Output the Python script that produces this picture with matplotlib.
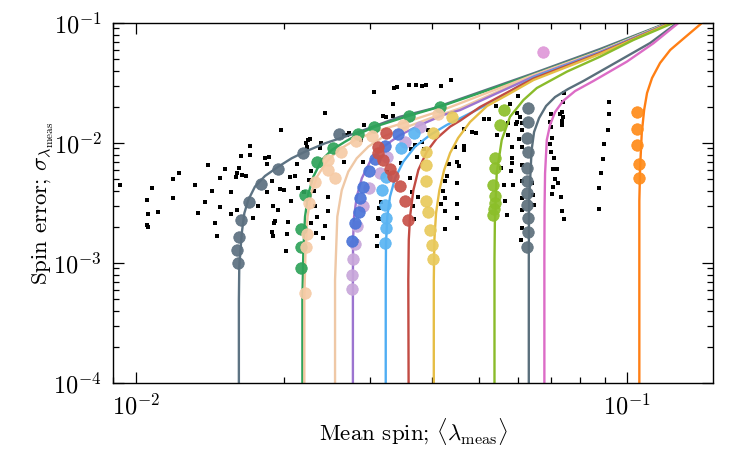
import matplotlib
matplotlib.use("Agg")
import matplotlib.pyplot as plt
from matplotlib.ticker import LogLocator, NullFormatter

plt.rcParams['font.family'] = 'serif'
plt.rcParams['font.serif'] = ['cmr10']
plt.rcParams['mathtext.fontset'] = 'cm'
plt.rcParams['axes.formatter.use_mathtext'] = True

# ---------------- data: background sample (black dots) ----------------
dots_x = [0.02426, 0.01974, 0.01707, 0.02238, 0.02262, 0.0222, 0.02234, 0.02378, 0.02374, 0.01636,
          0.01709, 0.01834, 0.01868, 0.01846, 0.0140, 0.01223, 0.01516, 0.01621, 0.01604, 0.01644,
          0.01675, 0.01596, 0.01485, 0.01191, 0.01889, 0.02059, 0.02108, 0.02131, 0.00928, 0.01076,
          0.01321, 0.0143, 0.01559, 0.01851, 0.01962, 0.02005, 0.02273, 0.02255, 0.01051, 0.01191,
          0.01059, 0.0111, 0.01051, 0.01059, 0.01382, 0.01338, 0.01485, 0.0145, 0.01464, 0.01561,
          0.01604, 0.01734, 0.01775, 0.01901, 0.01944, 0.01916, 0.0191, 0.01895, 0.01901, 0.02038,
          0.02034, 0.02024, 0.02069, 0.02135, 0.02305, 0.02313, 0.02341, 0.02269, 0.02326, 0.024,
          0.02426, 0.02464, 0.0246, 0.02652, 0.02656, 0.02686, 0.02719, 0.02199,
          0.03057, 0.03353, 0.03393, 0.03597, 0.03713, 0.0383, 0.03893, 0.04174, 0.04375, 0.03342,
          0.03189, 0.03225, 0.03342, 0.02917, 0.02877, 0.02895, 0.03459, 0.03701, 0.03731, 0.0383,
          0.03867, 0.03938, 0.04663, 0.04827, 0.04924, 0.04464, 0.04663, 0.04663, 0.04339, 0.04499,
          0.04547, 0.04293, 0.04265, 0.04499, 0.04213, 0.03653, 0.0324, 0.03614, 0.03749, 0.0315,
          0.03124, 0.03106, 0.03129, 0.03092, 0.031, 0.02818, 0.04259, 0.04186, 0.04499, 0.04265,
          0.04512, 0.04265, 0.0366, 0.03684, 0.03631,
          0.05988, 0.05776, 0.0541, 0.05122, 0.05235, 0.05732, 0.05977, 0.06053, 0.05941, 0.05977,
          0.0611, 0.05443, 0.05732, 0.06101, 0.06016, 0.06119, 0.05839, 0.05822, 0.05839, 0.05539,
          0.05795, 0.06101, 0.0611, 0.05617, 0.05863, 0.06396, 0.05644, 0.05697, 0.06119, 0.06101,
          0.0611, 0.0609, 0.06476, 0.06426,
          0.06991, 0.06968, 0.07302, 0.07372, 0.07417, 0.07361, 0.07382, 0.07417, 0.07442, 0.07011,
          0.07034, 0.06968, 0.07011, 0.0709, 0.07077, 0.07191, 0.07134, 0.07245, 0.07077, 0.07034,
          0.07327, 0.07382, 0.07431,
          0.09192, 0.09192, 0.09162, 0.08979, 0.08922, 0.08851, 0.08782, 0.08757]
dots_y = [0.01788, 0.01276, 0.00944, 0.01059, 0.01074, 0.00994, 0.00932, 0.01006, 0.00914, 0.00779,
          0.0079, 0.00754, 0.00765, 0.00665, 0.00652, 0.00566, 0.00604, 0.00615, 0.00562, 0.00544,
          0.0053, 0.00521, 0.00514, 0.00498, 0.00482, 0.00524, 0.00533, 0.00665, 0.00446, 0.00419,
          0.00449, 0.00398, 0.00393, 0.00393, 0.0041, 0.00402, 0.00584, 0.00492, 0.00335, 0.00349,
          0.00256, 0.00265, 0.00207, 0.00201, 0.0032, 0.00261, 0.00294, 0.00215, 0.00169, 0.00258,
          0.00275, 0.00236, 0.00297, 0.00298, 0.00277, 0.00223, 0.00217, 0.0018, 0.00168, 0.00218,
          0.00174, 0.00126, 0.0033, 0.00419, 0.00396, 0.003, 0.00243, 0.00214, 0.00179, 0.00162,
          0.00205, 0.00357, 0.0027, 0.00699, 0.01177, 0.01177, 0.01204, 0.00393,
          0.02676, 0.0289, 0.0291, 0.0304, 0.0304, 0.02985, 0.0306, 0.0300, 0.0337, 0.02099,
          0.01679, 0.01636, 0.01679, 0.01426, 0.01059, 0.00699, 0.00685, 0.00962, 0.0076, 0.01025,
          0.0089, 0.01276, 0.01308, 0.01228, 0.01211, 0.00932, 0.0095, 0.00869, 0.00672, 0.0069,
          0.00647, 0.00533, 0.00485, 0.00464, 0.00398, 0.00392, 0.0057, 0.00508, 0.00354, 0.00324,
          0.00286, 0.00236, 0.00231, 0.00168, 0.00139, 0.00153, 0.00346, 0.00308, 0.00308, 0.00273,
          0.00239, 0.00192, 0.003, 0.00233, 0.00886,
          0.02464, 0.02113, 0.02034, 0.01576, 0.01576, 0.0146, 0.01768, 0.01656, 0.01432, 0.01504,
          0.0146, 0.01166, 0.01173, 0.01283, 0.0108, 0.00932, 0.00921, 0.00746, 0.00677, 0.00622,
          0.00584, 0.00656, 0.00482, 0.00446, 0.00446, 0.00467, 0.00328, 0.00253, 0.00346, 0.00277,
          0.00195, 0.00156, 0.00304, 0.00367,
          0.01735, 0.01487, 0.01735, 0.01803, 0.01656, 0.01533, 0.01413, 0.02209, 0.02626, 0.01352,
          0.01107, 0.00975, 0.00846, 0.00754, 0.00604, 0.00604, 0.00498, 0.00467, 0.00433, 0.00378,
          0.00354, 0.00271, 0.00231,
          0.02209, 0.01752, 0.01283, 0.00981, 0.00731, 0.00559, 0.00424, 0.0028]

# ---------------- data: model curves ----------------
grey_cx = [0.0162, 0.0162, 0.01623, 0.01642, 0.01662, 0.01693, 0.01747, 0.01831, 0.01949, 0.02075,
           0.02209, 0.02426, 0.02793, 0.0345, 0.0403, 0.0645, 0.0881, 0.1205]
grey_cy = [1e-4, 0.000492, 0.000931, 0.00177, 0.0026, 0.00335, 0.00433, 0.00531, 0.00635, 0.00746,
           0.00846, 0.00994, 0.01205, 0.01656, 0.01945, 0.0381, 0.0607, 0.1]
green_cx = [0.02182, 0.02182, 0.02192, 0.02209, 0.02244, 0.02297, 0.02389, 0.02503, 0.02665, 0.02859,
            0.03067, 0.03585, 0.0416, 0.0645, 0.0881, 0.1209]
green_cy = [1e-4, 0.000492, 0.00128, 0.00243, 0.00378, 0.00524, 0.00722, 0.00874, 0.01025, 0.01205,
            0.01368, 0.0168, 0.0201, 0.0372, 0.059, 0.1]
peach_cx = [0.02202, 0.02202, 0.02214, 0.02235, 0.02272, 0.02337, 0.02445, 0.02582, 0.02793, 0.03067,
            0.0345, 0.0416, 0.0645, 0.0881, 0.1212]
peach_cy = [1e-4, 0.000492, 0.00128, 0.00243, 0.00378, 0.00524, 0.00699, 0.00874, 0.01059, 0.01242,
            0.0144, 0.01848, 0.0369, 0.0584, 0.1]
tan_cx = [0.02543, 0.02543, 0.0257, 0.02624, 0.02706, 0.02815, 0.02972, 0.03189, 0.03502, 0.0397,
          0.0457, 0.0645, 0.0881, 0.1215]
tan_cy = [1e-4, 0.000722, 0.00243, 0.00404, 0.00577, 0.00746, 0.00932, 0.01129, 0.01326, 0.01606,
          0.01945, 0.0365, 0.0579, 0.1]
purple_cx = [0.02765, 0.02765, 0.02767, 0.0278, 0.02815, 0.02883, 0.02996, 0.03189, 0.0345, 0.03788,
             0.04226, 0.0457, 0.0645, 0.0881, 0.1218]
purple_cy = [1e-4, 0.000722, 0.00156, 0.00243, 0.00357, 0.00508, 0.00699, 0.00932, 0.01166, 0.01413,
             0.01711, 0.0188, 0.0358, 0.0573, 0.1]
sky_cx = [0.03225, 0.03225, 0.03229, 0.03249, 0.0329, 0.03369, 0.03502, 0.037, 0.0397, 0.04293,
          0.0457, 0.0526, 0.0645, 0.0881, 0.1221]
sky_cy = [1e-4, 0.000722, 0.00146, 0.00243, 0.00357, 0.00508, 0.00699, 0.00932, 0.01166, 0.01413,
          0.01606, 0.0215, 0.0352, 0.0568, 0.1]
red_cx = [0.0359, 0.03585, 0.03593, 0.03614, 0.03671, 0.03758, 0.03909, 0.04097, 0.04361, 0.0457,
          0.05018, 0.0645, 0.0881, 0.1224]
red_cy = [1e-4, 0.000722, 0.00156, 0.00243, 0.00404, 0.00596, 0.00846, 0.01094, 0.01368, 0.01535,
          0.01995, 0.0345, 0.0562, 0.1]
gold_cx = [0.0404, 0.0404, 0.04051, 0.04083, 0.04147, 0.04241, 0.04361, 0.04527, 0.04789, 0.05187,
           0.05695, 0.0645, 0.0881, 0.1227]
gold_cy = [1e-4, 0.000722, 0.00156, 0.0026, 0.00404, 0.00596, 0.00825, 0.011, 0.01496, 0.02034,
           0.0251, 0.0335, 0.0552, 0.1]
lime_cx = [0.0537, 0.0537, 0.05379, 0.05426, 0.05555, 0.05776, 0.0615, 0.06547, 0.07539, 0.0881,
           0.1030, 0.1241]
lime_cy = [1e-4, 0.00106, 0.00214, 0.00559, 0.01059, 0.01656, 0.0228, 0.0287, 0.0393, 0.0524,
           0.0722, 0.1]
slate_cx = [0.06307, 0.06307, 0.06315, 0.06391, 0.06465, 0.06619, 0.06839, 0.07134, 0.07584, 0.08147,
            0.09528, 0.1114, 0.1264]
slate_cy = [1e-4, 0.00106, 0.0033, 0.00874, 0.01235, 0.01615, 0.02034, 0.02416, 0.02818, 0.03286,
            0.0473, 0.0681, 0.1]
pink_cx = [0.06785, 0.06785, 0.06791, 0.06807, 0.06862, 0.06968, 0.07134, 0.07405, 0.07836, 0.08538,
           0.09986, 0.1131, 0.1272]
pink_cy = [1e-4, 0.00106, 0.00294, 0.00559, 0.01059, 0.01413, 0.01813, 0.02239, 0.0271, 0.03286,
           0.0476, 0.0677, 0.1]
orange_cx = [0.1059, 0.1059, 0.1063, 0.1071, 0.1083, 0.1098, 0.1124, 0.1167, 0.1224, 0.1307, 0.142]
orange_cy = [1e-4, 0.0033, 0.00635, 0.01205, 0.0188, 0.0261, 0.0348, 0.0464, 0.0596, 0.075, 0.1]

# ---------------- data: measured spins (coloured points) ----------------
grey_px = [0.02595, 0.02186, 0.01944, 0.01795, 0.017, 0.01635, 0.01623, 0.01604, 0.01615]
grey_py = [0.01182, 0.0082, 0.00607, 0.00453, 0.00324, 0.00227, 0.00166, 0.00128, 0.001006]
green_px = [0.02168, 0.02168, 0.02168, 0.02212, 0.02339, 0.02522, 0.02836, 0.03057, 0.03593, 0.04167]
green_py = [0.000914, 0.00137, 0.00193, 0.00369, 0.0069, 0.00909, 0.01184, 0.01368, 0.0168, 0.0199]
peach_px = [0.02206, 0.02216, 0.02225, 0.02248, 0.02318, 0.02455, 0.02543, 0.0246, 0.02609, 0.02806,
            0.0302, 0.03502, 0.04127]
peach_py = [0.000566, 0.00137, 0.00175, 0.00314, 0.00476, 0.00596, 0.00508, 0.00715, 0.00846, 0.0103,
            0.01138, 0.01413, 0.01728]
lav_px = [0.03788, 0.0353, 0.0324, 0.0314, 0.02975, 0.02904, 0.02815, 0.02793, 0.02763, 0.02758, 0.02758]
lav_py = [0.01368, 0.0102, 0.00769, 0.00559, 0.00419, 0.00297, 0.00203, 0.00143, 0.00109, 0.000787, 0.000607]
royal_px = [0.03412, 0.03214, 0.03067, 0.02983, 0.02893, 0.02863, 0.02846, 0.02793, 0.0275]
royal_py = [0.01184, 0.00948, 0.00733, 0.00582, 0.0043, 0.00349, 0.00265, 0.00214, 0.00152]
sky_px = [0.03688, 0.03464, 0.03231, 0.03175, 0.03214, 0.03225, 0.03225, 0.03214]
sky_py = [0.01205, 0.00903, 0.00524, 0.00404, 0.00304, 0.00236, 0.00195, 0.00148]
red_px = [0.03225, 0.03115, 0.03115, 0.03189, 0.0329, 0.03342, 0.0345, 0.0353, 0.03576]
red_py = [0.01205, 0.00932, 0.0083, 0.00715, 0.00604, 0.00526, 0.00435, 0.0033, 0.0023]
gold_px = [0.04395, 0.04033, 0.03896, 0.0389, 0.0389, 0.03896, 0.03938, 0.0397, 0.04013, 0.04033]
gold_py = [0.01656, 0.01205, 0.00846, 0.00656, 0.00482, 0.00329, 0.00265, 0.00188, 0.00141, 0.00107]
lime_px = [0.05617, 0.05511, 0.05384, 0.05384, 0.0534, 0.05384, 0.05384, 0.05367, 0.0534]
lime_py = [0.0188, 0.01404, 0.00746, 0.00615, 0.00443, 0.00363, 0.00316, 0.00283, 0.0025]
slate_px = [0.06295, 0.06295, 0.06248, 0.06295, 0.06266, 0.06248, 0.06266, 0.06266, 0.06277, 0.06277, 0.06266]
slate_py = [0.01968, 0.01488, 0.01107, 0.00837, 0.00615, 0.00482, 0.00385, 0.00304, 0.00238, 0.00182, 0.00137]
pink_px = [0.06745]
pink_py = [0.057]
orange_px = [0.1046, 0.1049, 0.1049, 0.1058, 0.1058]
orange_py = [0.01803, 0.013, 0.00962, 0.00665, 0.00508]

# ---------------- figure ----------------
fig = plt.figure(figsize=(7.5, 4.5), dpi=100)
ax = fig.add_axes([0.1507, 0.1489, 0.8, 0.8])
ax.set_xscale('log')
ax.set_yscale('log')

ax.scatter(dots_x, dots_y, s=7, color='black', marker='s', linewidths=0, zorder=1)

curves = [
    (grey_cx, grey_cy, '#5d7383'),
    (green_cx, green_cy, '#2fa35a'),
    (peach_cx, peach_cy, '#f3c7a2'),
    (tan_cx, tan_cy, '#efc8a6'),
    (purple_cx, purple_cy, '#9c74d0'),
    (sky_cx, sky_cy, '#4fadf3'),
    (red_cx, red_cy, '#c24b43'),
    (gold_cx, gold_cy, '#e6bd45'),
    (lime_cx, lime_cy, '#8abb2a'),
    (slate_cx, slate_cy, '#5a6f7c'),
    (pink_cx, pink_cy, '#dc6cc6'),
    (orange_cx, orange_cy, '#ff7f14'),
]
for cx, cy, col in curves:
    ax.plot(cx, cy, color=col, lw=1.7, zorder=2, solid_joinstyle='round')

points = [
    (grey_px, grey_py, '#5c7080'),
    (green_px, green_py, '#2fa35a'),
    (peach_px, peach_py, '#f6cba6'),
    (lav_px, lav_py, '#c8a7da'),
    (royal_px, royal_py, '#4b74d8'),
    (sky_px, sky_py, '#5ab4f2'),
    (red_px, red_py, '#c8524a'),
    (gold_px, gold_py, '#e9ca5c'),
    (lime_px, lime_py, '#8cbf2a'),
    (slate_px, slate_py, '#5d707c'),
    (pink_px, pink_py, '#df98d8'),
    (orange_px, orange_py, '#ff8c1a'),
]
for px, py, col in points:
    ax.scatter(px, py, s=68, color=col, alpha=0.92, edgecolors=col, linewidths=0.6, zorder=3)

ax.set_xlim(0.00898, 0.1496)
ax.set_ylim(1e-4, 1e-1)

ax.xaxis.set_major_locator(LogLocator(base=10))
ax.xaxis.set_minor_locator(LogLocator(base=10, subs=range(2, 10)))
ax.xaxis.set_minor_formatter(NullFormatter())
ax.yaxis.set_minor_formatter(NullFormatter())
ax.tick_params(which='both', direction='in', top=True, right=True, width=0.9)
ax.tick_params(which='major', length=8, labelsize=17.5)
ax.tick_params(which='minor', length=4.5)
ax.tick_params(axis='x', which='major', pad=8)
ax.tick_params(axis='y', which='major', pad=8)
for sp in ax.spines.values():
    sp.set_linewidth(1.0)

ax.set_xlabel(r'Mean spin; $\langle\lambda_{\rm meas}\rangle$', fontsize=16.5)
ax.set_ylabel(r'Spin error; $\sigma_{\lambda_{\rm meas}}$', fontsize=16.5)
ax.xaxis.set_label_coords(0.5, -0.092)
ax.yaxis.set_label_coords(-0.095, 0.5)

fig.savefig('out.png', dpi=100)
